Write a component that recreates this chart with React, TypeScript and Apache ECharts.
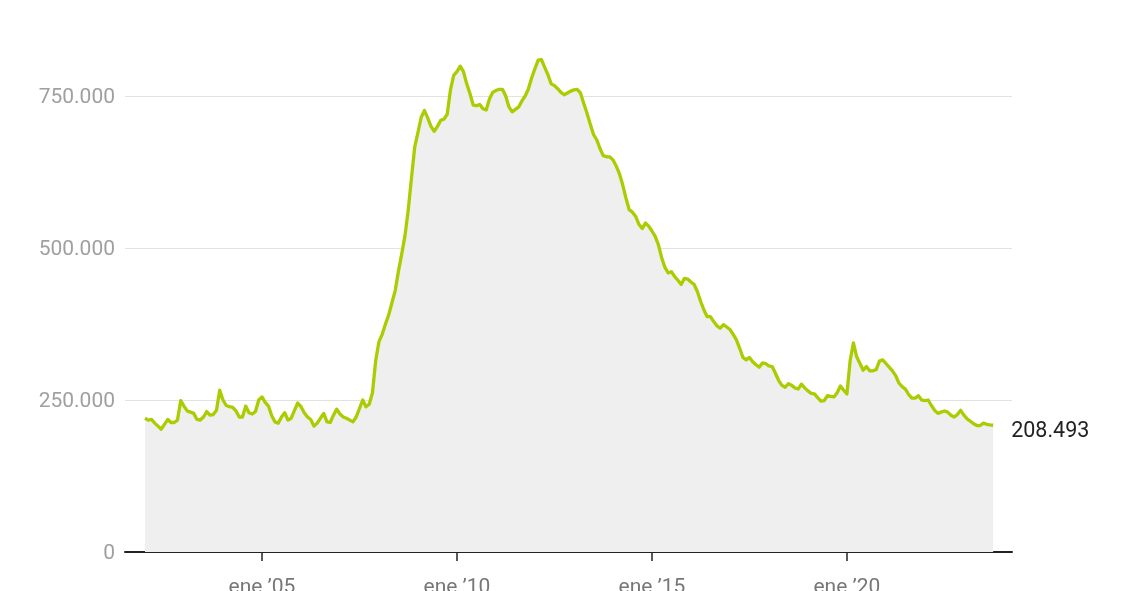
import React, { useEffect, useRef } from "react";
import * as echarts from "echarts";

const START_YEAR = 2002;
const values: number[] = [
  220000, 217000, 218000, 212000, 207000, 202000, 210000, 218000, 213000, 213000, 217000, 249000,
  240000, 232000, 230000, 228000, 218000, 217000, 222000, 231000, 225000, 226000, 233000, 266000,
  250000, 241000, 239000, 238000, 232000, 222000, 222000, 240000, 229000, 227000, 231000, 250000,
  255000, 246000, 240000, 224000, 214000, 212000, 222000, 229000, 217000, 220000, 233000, 245000,
  239000, 229000, 222000, 218000, 207000, 212000, 220000, 228000, 214000, 213000, 225000, 235000,
  227000, 222000, 220000, 217000, 214000, 222000, 236000, 250000, 239000, 243000, 262000, 315000,
  346000, 358000, 375000, 390000, 410000, 430000, 462000, 490000, 520000, 562000, 615000, 666000,
  690000, 715000, 726000, 714000, 700000, 692000, 700000, 710000, 712000, 720000, 760000, 784000,
  790000, 799000, 790000, 770000, 754000, 735000, 734000, 736000, 729000, 727000, 745000, 756000,
  759000, 761000, 761000, 750000, 732000, 724000, 728000, 732000, 742000, 750000, 762000, 780000,
  795000, 809000, 810000, 797000, 785000, 770000, 767000, 762000, 756000, 752000, 755000, 758000,
  760000, 761000, 755000, 738000, 722000, 704000, 687000, 678000, 664000, 652000, 650000, 650000,
  645000, 635000, 622000, 604000, 582000, 563000, 559000, 552000, 539000, 532000, 541000, 536000,
  528000, 519000, 505000, 484000, 468000, 459000, 461000, 453000, 447000, 440000, 450000, 449000,
  444000, 440000, 428000, 412000, 398000, 387000, 387000, 379000, 372000, 368000, 374000, 370000,
  366000, 358000, 349000, 335000, 320000, 316000, 320000, 313000, 308000, 304000, 311000, 310000,
  306000, 305000, 294000, 282000, 274000, 271000, 277000, 274000, 270000, 268000, 276000, 270000,
  265000, 261000, 260000, 254000, 248000, 249000, 257000, 256000, 255000, 262000, 273000, 266000,
  260000, 315000, 344000, 321000, 310000, 299000, 305000, 298000, 298000, 300000, 314000, 316000,
  310000, 304000, 298000, 290000, 278000, 272000, 268000, 259000, 253000, 253000, 257000, 250000,
  249000, 250000, 241000, 233000, 228000, 230000, 232000, 230000, 225000, 222000, 226000, 233000,
  225000, 219000, 215000, 211000, 208000, 208000, 212000, 210000, 209000, 208493,
];
const months: string[] = values.map((_, i) => {
  const y = START_YEAR + Math.floor(i / 12);
  const mo = (i % 12) + 1;
  return `${y}-${mo < 10 ? "0" + mo : mo}`;
});
const labelYears = [2005, 2010, 2015, 2020];
const yTicks = [0, 250000, 500000, 750000];

const fmtNum = (v: number) => String(Math.round(v)).replace(/\B(?=(\d{3})+(?!\d))/g, ".");
const monthIndex = (ym: string) => {
  const [y, m] = ym.split("-").map(Number);
  return (y - START_YEAR) * 12 + (m - 1);
};

export default function App() {
  const ref = useRef<HTMLDivElement>(null);
  useEffect(() => {
    if (!ref.current) return;
    const chart = echarts.init(ref.current, null, { renderer: "svg" });
    const tickPos = labelYears.map((y) => monthIndex(`${y}-01`));
    chart.setOption({
      animation: false,
      textStyle: { fontFamily: "Roboto" },
      grid: { left: 125, right: 116, top: 96, bottom: 39, containLabel: false, outerBoundsMode: "none" },
      xAxis: {
        type: "value",
        min: -6.15,
        max: 266.8,
        axisLine: { show: true, lineStyle: { color: "#222", width: 2 } },
        axisTick: { show: true, customValues: tickPos, length: 9, lineStyle: { color: "#222", width: 1.5 } },
        axisLabel: {
          customValues: tickPos,
          margin: 23,
          color: "#777",
          fontSize: 21,
          fontFamily: "Roboto",
          formatter: (v: number) => {
            const yr = START_YEAR + Math.round(v / 12);
            return "ene \u2019" + String(yr % 100).padStart(2, "0");
          },
        },
        splitLine: { show: false },
      },
      yAxis: {
        type: "value",
        min: yTicks[0],
        max: yTicks[yTicks.length - 1],
        interval: yTicks[1] - yTicks[0],
        axisLine: { show: false },
        axisTick: { show: false },
        axisLabel: { margin: 10, color: "#a0a0a0", fontSize: 21, fontFamily: "Roboto", formatter: (v: number) => fmtNum(v) },
        splitLine: { show: true, lineStyle: { color: "#e2e2e2", width: 1 } },
      },
      series: [
        {
          type: "line",
          data: values.map((v, i) => [monthIndex(months[i]), v]),
          clip: false,
          showSymbol: false,
          symbol: "none",
          lineStyle: { color: "#aacc00", width: 3.3, join: "round" },
          areaStyle: { color: "#efefef", opacity: 1 },
          endLabel: {
            show: true,
            distance: 18,
            offset: [0, 4],
            color: "#222",
            fontSize: 21.5,
            fontFamily: "Roboto",
            formatter: (p: any) => fmtNum(p.value[1]),
          },
          z: 2,
        },
      ],
    });
    return () => chart.dispose();
  }, []);
  return <div ref={ref} style={{ position: "fixed", left: 0, top: 0, width: 1128, height: 591 }} />;
}
